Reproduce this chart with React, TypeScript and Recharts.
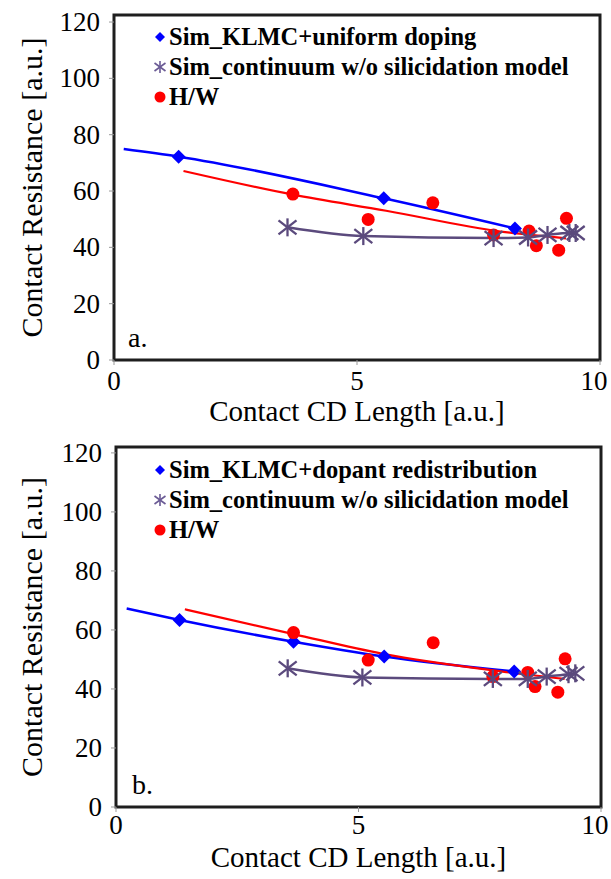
import React from 'react';
import { ComposedChart, Line, Scatter, XAxis, YAxis, ReferenceArea, Legend, Label } from 'recharts';

// ---------- shared axis ticks ----------
const xTicks = [0, 5, 10];
const yTicks = [0, 20, 40, 60, 80, 100, 120];

// ---------- panel a ----------
const aKlmcName = 'Sim_KLMC+uniform doping';
const aKlmcX = [1.33, 5.55, 8.25];
const aKlmcY = [72.2, 57.4, 46.7];
const aKlmcFitX = [0.2, 1.33, 5.55, 8.25];
const aKlmcFitY = [74.9, 72.2, 57.4, 46.7];
const aContX = [3.57, 5.13, 7.81, 8.52, 8.92, 9.37, 9.5];
const aContY = [47.1, 44.0, 43.3, 43.5, 44.4, 45.1, 45.1];
const aHwX = [3.68, 5.23, 6.56, 7.81, 8.54, 8.69, 9.15, 9.31];
const aHwY = [58.9, 49.9, 55.8, 44.4, 45.8, 40.6, 39.0, 50.3];
const aHwFitX = [1.43, 3.68, 5.6, 7.96, 9.3];
const aHwFitY = [67.1, 58.7, 53.0, 45.6, 43.2];

// ---------- panel b ----------
const bKlmcName = 'Sim_KLMC+dopant redistribution';
const bKlmcX = [1.31, 3.66, 5.53, 8.21];
const bKlmcY = [63.4, 56.0, 51.0, 45.9];
const bKlmcFitX = [0.22, 1.31, 3.66, 5.53, 8.21];
const bKlmcFitY = [67.3, 63.4, 56.0, 51.0, 45.9];
const bContX = [3.54, 5.08, 7.77, 8.49, 8.88, 9.33, 9.47];
const bContY = [47.0, 43.9, 43.4, 43.4, 44.2, 45.0, 45.3];
const bHwX = [3.66, 5.2, 6.54, 7.77, 8.49, 8.64, 9.11, 9.26];
const bHwY = [59.1, 49.8, 55.7, 44.2, 45.6, 40.8, 38.9, 50.2];
const bHwFitX = [1.42, 3.66, 5.5, 7.97, 9.25];
const bHwFitY = [67.0, 58.6, 51.9, 45.9, 43.4];

const contName = 'Sim_continuum w/o silicidation model';
const hwName = 'H/W';
const xTitle = 'Contact CD Length [a.u.]';
const yTitle = 'Contact Resistance [a.u.]';

const SERIF = '"Liberation Serif", "Times New Roman", serif';
const BLUE = '#0000FF';
const RED = '#FF0000';
const PURPLE = '#5B4A7D';

const toPts = (xs: number[], ys: number[]) => xs.map((x, i) => ({ x, y: ys[i] }));

const DiamondShape = (p: any) => {
  const s = 7;
  const { cx, cy } = p;
  return <polygon points={`${cx},${cy - s} ${cx + s},${cy} ${cx},${cy + s} ${cx - s},${cy}`} fill={BLUE} />;
};
const DotShape = (p: any) => <circle cx={p.cx} cy={p.cy} r={6.5} fill={RED} />;
const StarShape = (p: any) => {
  const { cx, cy } = p;
  return (
    <g stroke={PURPLE} strokeWidth={2.3}>
      <line x1={cx} y1={cy - 9} x2={cx} y2={cy + 9} />
      <line x1={cx - 9} y1={cy - 7} x2={cx + 9} y2={cy + 7} />
      <line x1={cx - 9} y1={cy + 7} x2={cx + 9} y2={cy - 7} />
    </g>
  );
};

const makeXTick = (dy: number) => (p: any) => {
  const v = p.payload.value;
  return (
    <text x={p.x + (v === 10 ? -6 : 0)} y={p.y} dy={dy} textAnchor="middle" fontSize={27} fontFamily={SERIF} fill="#000">
      {v}
    </text>
  );
};
const YTick = (p: any) => (
  <text x={p.x} y={p.y} dy={9} textAnchor="end" fontSize={27} fontFamily={SERIF} fill="#000">
    {p.payload.value}
  </text>
);

const LegendMarker = ({ kind }: { kind: string }) => (
  <svg width={14} height={16} style={{ display: 'block' }}>
    {kind === 'diamond' && <polygon points="7,3 12,8 7,13 2,8" fill={BLUE} />}
    {kind === 'star' && (
      <g stroke="#6B5B95" strokeWidth={1.6}>
        <line x1={7} y1={2} x2={7} y2={14} />
        <line x1={1.5} y1={4} x2={12.5} y2={12} />
        <line x1={1.5} y1={12} x2={12.5} y2={4} />
      </g>
    )}
    {kind === 'circle' && <circle cx={7} cy={8} r={5.5} fill={RED} />}
  </svg>
);

const makeLegend = (names: string[]) => () => (
  <div style={{ fontFamily: SERIF, fontWeight: 'bold', fontSize: 24.5, lineHeight: '30px', color: '#000' }}>
    {names.map((n, i) => (
      <div key={n} style={{ display: 'flex', alignItems: 'center', whiteSpace: 'nowrap' }}>
        <LegendMarker kind={['diamond', 'star', 'circle'][i]} />
        <span style={{ marginLeft: 2 }}>{n}</span>
      </div>
    ))}
  </div>
);

type Pt = { x: number; y: number };
type PanelProps = {
  height: number;
  margin: { top: number; right: number; bottom: number; left: number };
  yAxisWidth: number;
  yMax: number;
  legendLeft: number;
  legendTop: number;
  tag: string;
  tagDx: number;
  titleBaseline: number;
  tickDy: number;
  klmcName: string;
  klmc: Pt[];
  klmcFit: Pt[];
  cont: Pt[];
  hw: Pt[];
  hwFit: Pt[];
};

const Panel = (pp: PanelProps) => {
  const XTick = makeXTick(pp.tickDy);
  return (
    <ComposedChart width={611} height={pp.height} margin={pp.margin}>
      <XAxis
        type="number"
        dataKey="x"
        domain={[0, 10]}
        ticks={xTicks}
        allowDataOverflow
        axisLine={false}
        tickLine={{ stroke: '#999' }}
        tickSize={5}
        tickMargin={5}
        height={70}
        tick={<XTick />}
        interval={0}
      >
        <Label
          content={(lp: any) => {
            const vb = lp.viewBox || {};
            return (
              <text x={vb.x + vb.width / 2} y={vb.y + pp.titleBaseline} textAnchor="middle" fontSize={29} fontFamily={SERIF} fill="#000">
                {xTitle}
              </text>
            );
          }}
        />
      </XAxis>
      <YAxis
        type="number"
        dataKey="y"
        domain={[0, pp.yMax]}
        ticks={yTicks}
        allowDataOverflow
        axisLine={false}
        tickLine={{ stroke: '#999' }}
        tickSize={5}
        tickMargin={9}
        width={pp.yAxisWidth}
        tick={<YTick />}
        interval={0}
      >
        <Label
          content={(lp: any) => {
            const vb = lp.viewBox || {};
            const cx = 31;
            const cy = vb.y + vb.height / 2;
            return (
              <text x={cx} y={cy} transform={`rotate(-90 ${cx} ${cy})`} textAnchor="middle" dominantBaseline="central" fontSize={30} fontFamily={SERIF} fill="#000">
                {yTitle}
              </text>
            );
          }}
        />
      </YAxis>
      <ReferenceArea x1={0} x2={10} y1={0} y2={pp.yMax} fill="none" fillOpacity={0} stroke="#1e1e1e" strokeWidth={3}>
        <Label
          content={(lp: any) => {
            const vb = lp.viewBox || {};
            return (
              <text x={vb.x + pp.tagDx} y={vb.y + vb.height - 13} fontSize={28} fontFamily={SERIF} fill="#000">
                {pp.tag}
              </text>
            );
          }}
        />
      </ReferenceArea>
      <Line data={pp.klmcFit} dataKey="y" type="monotone" stroke={BLUE} strokeWidth={2.5} dot={false} isAnimationActive={false} legendType="none" />
      <Line data={pp.hwFit} dataKey="y" type="monotone" stroke={RED} strokeWidth={2.2} dot={false} isAnimationActive={false} legendType="none" />
      <Line data={pp.cont} dataKey="y" type="monotone" stroke={PURPLE} strokeWidth={2.5} dot={false} isAnimationActive={false} legendType="none" />
      <Scatter name={pp.klmcName} data={pp.klmc} dataKey="y" shape={DiamondShape} isAnimationActive={false} />
      <Scatter name={hwName} data={pp.hw} dataKey="y" shape={DotShape} isAnimationActive={false} />
      <Scatter name={contName} data={pp.cont} dataKey="y" shape={StarShape} isAnimationActive={false} />
      <Legend
        layout="vertical"
        align="center"
        verticalAlign="middle"
        wrapperStyle={{ left: pp.legendLeft, top: pp.legendTop }}
        content={makeLegend([pp.klmcName, contName, hwName])}
      />
    </ComposedChart>
  );
};

export default function App() {
  return (
    <div style={{ position: 'absolute', left: 0, top: 0, width: 611, height: 879, background: '#fff' }}>
      <Panel
        height={430}
        margin={{ top: 15, right: 11, bottom: 0, left: 0 }}
        yAxisWidth={114}
        yMax={122.5}
        legendLeft={153}
        legendTop={22}
        tag="a."
        tagDx={14}
        titleBaseline={61}
        tickDy={20}
        klmcName={aKlmcName}
        klmc={toPts(aKlmcX, aKlmcY)}
        klmcFit={toPts(aKlmcFitX, aKlmcFitY)}
        cont={toPts(aContX, aContY)}
        hw={toPts(aHwX, aHwY)}
        hwFit={toPts(aHwFitX, aHwFitY)}
      />
      <Panel
        height={449}
        margin={{ top: 17, right: 10, bottom: 2, left: 0 }}
        yAxisWidth={116}
        yMax={122}
        legendLeft={153}
        legendTop={25}
        tag="b."
        tagDx={16}
        titleBaseline={60}
        tickDy={17}
        klmcName={bKlmcName}
        klmc={toPts(bKlmcX, bKlmcY)}
        klmcFit={toPts(bKlmcFitX, bKlmcFitY)}
        cont={toPts(bContX, bContY)}
        hw={toPts(bHwX, bHwY)}
        hwFit={toPts(bHwFitX, bHwFitY)}
      />
    </div>
  );
}
